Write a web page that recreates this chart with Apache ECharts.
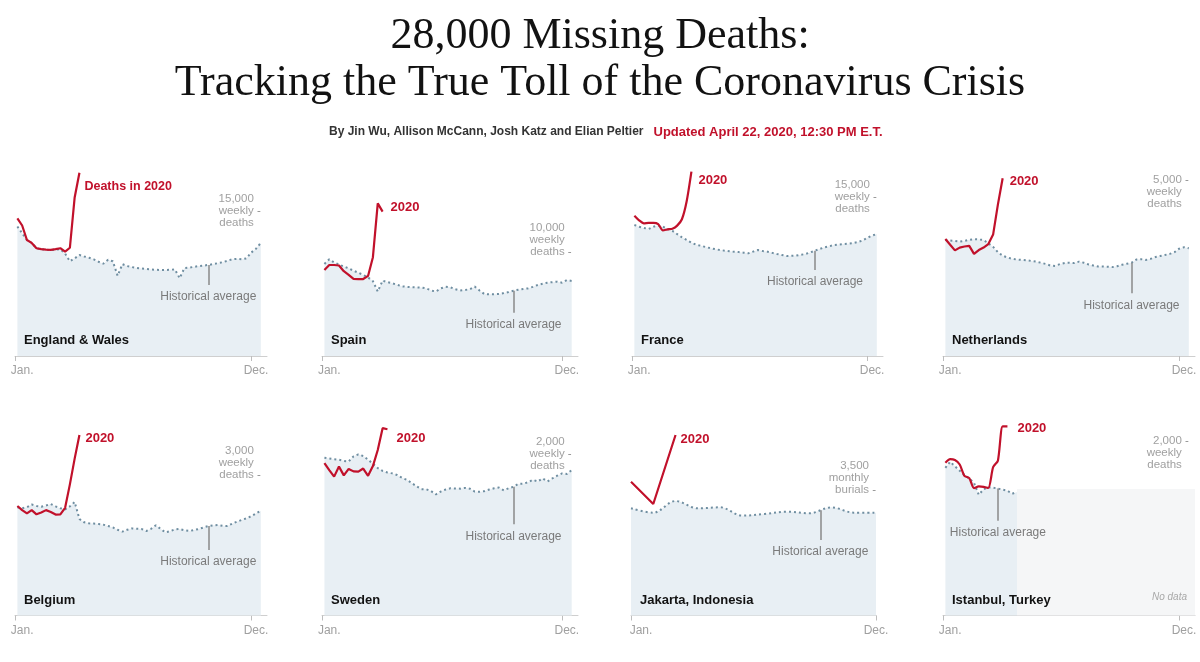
<!DOCTYPE html>
<html><head><meta charset="utf-8">
<script src="https://cdn.jsdelivr.net/npm/echarts@6/dist/echarts.min.js"></script>
<style>html,body{margin:0;padding:0;background:#fff}#c{width:1200px;height:662px}</style>
</head><body><div id="c"></div>
<script>
// ---------- text ----------
const titleLines = ['28,000 Missing Deaths:', 'Tracking the True Toll of the Coronavirus Crisis'];
const bylineAuthors = 'By Jin Wu, Allison McCann, Josh Katz and Elian Peltier';
const bylineUpdated = 'Updated April 22, 2020, 12:30 PM E.T.';
const panelNames = ['England & Wales', 'Spain', 'France', 'Netherlands', 'Belgium', 'Sweden', 'Jakarta, Indonesia', 'Istanbul, Turkey'];
const scaleTicks = [15000, 10000, 15000, 5000, 3000, 2000, 3500, 2000];
const scaleUnits = ['weekly\ndeaths', 'weekly\ndeaths', 'weekly\ndeaths', 'weekly\ndeaths', 'weekly\ndeaths', 'weekly\ndeaths', 'monthly\nburials', 'weekly\ndeaths'];
const endLabels = ['Deaths in 2020', '2020', '2020', '2020', '2020', '2020', '2020', '2020'];
const xTickLabels = ['Jan.', 'Dec.'];
const histLabel = 'Historical average';
const noDataLabel = 'No data';

// ---------- data (weekly, week index 0 = first week of Jan.; Jakarta monthly) ----------
const histEngland = [13400, 12700, 12000, 11700, 11150, 11050, 11000, 10950, 11000, 11050, 10600, 9800, 10100, 10450, 10300, 10170, 10000, 9750, 9550, 9950, 9800, 8300, 9500, 9300, 9200, 9100, 9050, 9000, 8950, 8920, 8900, 8900, 8920, 8960, 8050, 9100, 9150, 9220, 9300, 9350, 9420, 9500, 9600, 9700, 9850, 10000, 10050, 10000, 10100, 10700, 11100, 11700];
const deathsEngland = [14240, 13500, 12000, 11700, 11150, 11050, 11000, 10970, 11050, 11150, 10800, 11200, 16400, 18950];

const histSpain = [8850, 9300, 9000, 8800, 8600, 8430, 8200, 8010, 7800, 7550, 7200, 6200, 7250, 7100, 6990, 6850, 6700, 6650, 6620, 6600, 6580, 6500, 6300, 6200, 6500, 6650, 6600, 6420, 6300, 6350, 6420, 6670, 6300, 5950, 5930, 5940, 5960, 6050, 6150, 6280, 6380, 6450, 6500, 6650, 6830, 6950, 7050, 7100, 7150, 7050, 7300, 7220];
const deathsSpain = [8270, 8750, 8750, 8700, 8150, 7800, 7420, 7400, 7400, 7700, 9500, 14680, 13880];

const histFrance = [12360, 12200, 12080, 11980, 12200, 12300, 12200, 12000, 11800, 11500, 11200, 10950, 10700, 10500, 10400, 10280, 10170, 10080, 10000, 9940, 9880, 9830, 9800, 9740, 9690, 9850, 10000, 9900, 9840, 9730, 9620, 9530, 9440, 9450, 9470, 9550, 9620, 9770, 9940, 10100, 10250, 10350, 10470, 10520, 10560, 10600, 10650, 10750, 10900, 11150, 11350, 11510];
const deathsFrance = [13240, 12800, 12520, 12560, 12560, 12450, 11850, 11950, 12010, 12300, 12900, 14600, 17390];

const histNetherlands = [3295, 3280, 3270, 3250, 3270, 3300, 3320, 3310, 3295, 3200, 3100, 2950, 2850, 2800, 2760, 2740, 2730, 2720, 2700, 2680, 2650, 2615, 2570, 2560, 2610, 2640, 2650, 2640, 2680, 2650, 2600, 2570, 2540, 2540, 2535, 2525, 2550, 2590, 2620, 2650, 2740, 2750, 2730, 2760, 2810, 2840, 2870, 2900, 2950, 3050, 3090, 3060];
const deathsNetherlands = [3324, 3160, 3000, 3080, 3110, 3130, 2900, 3010, 3080, 3180, 3450, 4300, 5050];

const histBelgium = [2310, 2290, 2310, 2370, 2340, 2324, 2350, 2380, 2330, 2290, 2267, 2330, 2424, 2060, 1990, 1968, 1962, 1955, 1940, 1910, 1880, 1830, 1790, 1830, 1860, 1852, 1847, 1804, 1850, 1925, 1850, 1776, 1800, 1840, 1847, 1820, 1804, 1825, 1847, 1880, 1911, 1925, 1932, 1915, 1911, 1960, 2003, 2040, 2075, 2120, 2180, 2238];
const deathsBelgium = [2338, 2250, 2180, 2250, 2160, 2200, 2250, 2210, 2155, 2160, 2300, 2800, 3350, 3854];

const histSweden = [1954, 1945, 1935, 1929, 1915, 1907, 1971, 1996, 1975, 1930, 1880, 1825, 1790, 1770, 1760, 1740, 1705, 1680, 1640, 1600, 1565, 1563, 1540, 1500, 1535, 1560, 1575, 1572, 1571, 1580, 1570, 1535, 1533, 1540, 1560, 1575, 1584, 1550, 1575, 1595, 1630, 1632, 1650, 1680, 1660, 1697, 1660, 1697, 1731, 1760, 1752, 1802];
const deathsSweden = [1886, 1800, 1720, 1844, 1735, 1815, 1785, 1781, 1820, 1730, 1850, 2050, 2320, 2307];

const histJakarta = [2989, 2868, 3193, 2989, 3017, 2785, 2831, 2896, 2850, 3017, 2868, 2868];
const burialsJakarta = [3732, 3110, 5034];

const histIstanbul = [1693, 1762, 1710, 1660, 1610, 1570, 1520, 1384, 1446, 1470, 1465, 1455, 1442, 1430, 1395, 1415];
const deathsIstanbul = [1751, 1793, 1782, 1730, 1600, 1575, 1460, 1480, 1475, 1462, 1700, 1775, 2168, 2168];
const istanbulNoDataTop = 1450;

const histSeries = [histEngland, histSpain, histFrance, histNetherlands, histBelgium, histSweden, histJakarta, histIstanbul];
const series2020 = [deathsEngland, deathsSpain, deathsFrance, deathsNetherlands, deathsBelgium, deathsSweden, burialsJakarta, deathsIstanbul];
// "Historical average" pointer: x position and lower end (data units)
const leaderX = [40, 39, 38, 39, 40, 39, 8.5, 11];
const leaderBottom = [7350, 4170, 8110, 1780, 1398, 1129, 2105, 1087];

// ---------- layout / style ----------
const SANS = '"Liberation Sans", Arial, sans-serif';
const RED = '#c1112b';
const FILL = '#e8eff4';
const DOT = '#6f8ea1';
const GREY_TXT = '#a0a0a0';
const colLeft = [15, 322, 632, 943];
const colWidth = [252, 256, 251, 252];
const rowZero = [356, 615.5];
const rowTop = [160, 420];
const tickPx = [145, 104, 159, 176, 140.5, 161.5, 125.5, 174.5]; // pixel height of the labelled tick above zero
const tickLine = [1, 2, 1, 0, 2, 1, 2, 0];                     // which text line sits beside the tick dash
const endOffset = [[0, 14], [3, -4], [2, 9], [2, 3], [1, 3], [4, 9], [0, 4], [5, 2]];
const endFont = [12.5, 13, 13, 13, 13, 13, 13, 13];
const W_MIN = -0.5, W_MAX = 52.3, WEEKS = 52;

const fmt = v => v.toLocaleString('en-US');
const grids = [], xAxes = [], yAxes = [], series = [], titles = [];

titles.push({
  text: titleLines.join('\n'), left: 'center', top: 13, padding: 0,
  textStyle: { fontFamily: '"Liberation Serif", "Times New Roman", serif', fontSize: 44, fontWeight: 'normal', color: '#121212', lineHeight: 47 }
});
titles.push({
  text: '{a|' + bylineAuthors + '}  {b|' + bylineUpdated + '}', left: 329, top: 123, padding: 0,
  textStyle: { rich: {
    a: { fontFamily: SANS, fontSize: 12, fontWeight: 'bold', color: '#333' },
    b: { fontFamily: SANS, fontSize: 13, color: RED }
  } }
});

for (let k = 0; k < 8; k++) {
  const row = Math.floor(k / 4), col = k % 4;
  const monthly = (k === 6);
  let left = colLeft[col], width = colWidth[col];
  if (monthly) { left = 631; width = 245; }
  const top = rowTop[row], zero = rowZero[row];
  const h = zero - top;
  grids.push({ left: left, top: top, width: width, height: h, containLabel: false });
  const xmin = monthly ? 0 : W_MIN, xmax = monthly ? 11 : W_MAX;
  const tickAt = monthly ? [0, 11] : [W_MIN, 49];
  const labelAt = monthly ? [0.45, 11] : [1, 50];
  xAxes.push({
    type: 'value', gridIndex: k, min: xmin, max: xmax, offset: 3,
    axisLine: { show: true, lineStyle: { color: '#cfcfcf', width: 1 } },
    axisTick: { show: true, length: 5, customValues: tickAt, lineStyle: { color: '#bdbdbd', width: 1 } },
    axisLabel: { show: true, customValues: labelAt, margin: 6, color: GREY_TXT, fontFamily: SANS, fontSize: 12,
      formatter: v => (v === labelAt[0] ? xTickLabels[0] : xTickLabels[1]) },
    splitLine: { show: false }
  });
  const yMax = scaleTicks[k] * h / tickPx[k];
  const fillRightGap = monthly ? 0 : (xmax - (WEEKS - 1)) / (xmax - xmin) * width;
  const dk = tickLine[k];
  // scale label (plain multi-line text, right aligned)
  yAxes.push({
    type: 'value', gridIndex: k, position: 'right', min: 0, max: yMax, offset: -fillRightGap,
    axisLine: { show: false }, splitLine: { show: false }, axisTick: { show: false },
    axisLabel: { show: true, inside: true, customValues: [scaleTicks[k]], margin: 7, verticalAlign: 'middle',
      color: GREY_TXT, fontFamily: SANS, fontSize: 11.5, lineHeight: 12,
      formatter: v => {
        let rows = [fmt(v)].concat(scaleUnits[k].split('\n'));
        if (dk === 0) rows = ['', ''].concat(rows);
        if (dk === 2) rows = rows.concat(['', '']);
        return rows.join('\n');
      } }
  });
  // tick dash of the scale label
  yAxes.push({
    type: 'value', gridIndex: k, position: 'right', min: 0, max: yMax, offset: -fillRightGap,
    axisLine: { show: false }, splitLine: { show: false }, axisTick: { show: false },
    axisLabel: { show: true, inside: true, customValues: [scaleTicks[k]], margin: 0, verticalAlign: 'middle',
      color: '#8c8c8c', fontFamily: SANS, fontSize: 11.5, lineHeight: 12, formatter: () => '-' }
  });
  const yi = 2 * k;
  const hist = histSeries[k];
  const lx = leaderX[k];
  const li = Math.floor(lx), lf = lx - li;
  const lTop = lf === 0 ? hist[li] : hist[li] * (1 - lf) + hist[li + 1] * lf;
  const histS = {
    type: 'line', xAxisIndex: k, yAxisIndex: yi, data: hist.map((v, i) => [i, v]),
    symbol: 'none', smooth: monthly ? 0.35 : false, z: 2, silent: true,
    lineStyle: { color: DOT, width: 2, type: [2, 3] },
    areaStyle: { color: FILL, opacity: 1 },
    markLine: {
      silent: true, symbol: ['none', 'none'], animation: false,
      lineStyle: { color: '#8a8a8a', width: 1.5, type: 'solid' },
      label: { show: true, position: 'end', distance: 6, formatter: histLabel, color: '#7a7a7a', fontFamily: SANS, fontSize: 12 },
      data: [[{ coord: [lx, lTop] }, { coord: [lx, leaderBottom[k]] }]]
    }
  };
  if (k === 7) {
    histS.markArea = {
      silent: true, itemStyle: { color: '#f5f6f7' },
      label: { show: true, position: 'insideBottomRight', distance: 8, offset: [0, -5], formatter: noDataLabel, color: '#a8a8a8',
        fontStyle: 'italic', fontFamily: SANS, fontSize: 10 },
      data: [[{ coord: [hist.length - 1, 0] }, { coord: [W_MAX, istanbulNoDataTop] }]]
    };
  }
  series.push(histS);
  series.push({
    type: 'line', xAxisIndex: k, yAxisIndex: yi, data: series2020[k].map((v, i) => [i, v]),
    symbol: 'none', smooth: (k === 2 || k === 7) ? 0.25 : false, z: 3, clip: false, silent: true,
    lineStyle: { color: RED, width: 2.2 },
    endLabel: { show: true, formatter: endLabels[k], color: RED, fontWeight: 'bold', fontFamily: SANS, fontSize: endFont[k],
      offset: endOffset[k], distance: 5 }
  });
  titles.push({
    text: panelNames[k], left: left + 9, top: zero - 23, padding: 0,
    textStyle: { fontFamily: SANS, fontSize: 13, fontWeight: 'bold', color: '#121212', lineHeight: 15 }
  });
}

const chart = echarts.init(document.getElementById('c'), null, { renderer: 'canvas' });
chart.setOption({
  animation: false, backgroundColor: '#ffffff',
  title: titles, grid: grids, xAxis: xAxes, yAxis: yAxes, series: series
});
</script></body></html>
